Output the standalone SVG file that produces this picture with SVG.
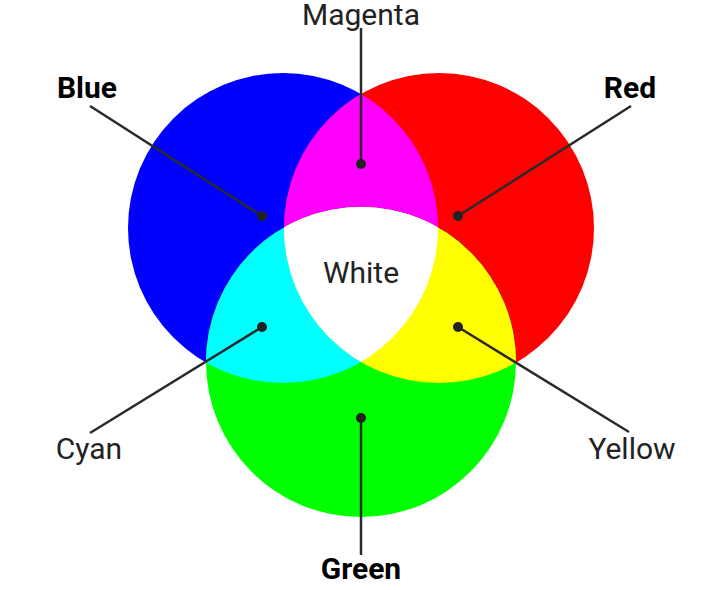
<svg xmlns="http://www.w3.org/2000/svg" width="702" height="590" viewBox="0 0 702 590">
  <style>
    .lbl { font-family: Roboto, "Liberation Sans", sans-serif; font-size: 30px; fill: #222; text-anchor: middle; }
    .bold { font-weight: bold; fill: #000; }
    .conn line { stroke: #2a2a2a; stroke-width: 2.5; }
    .conn circle { fill: #222; }
  </style>
  <defs>
    <clipPath id="cB"><circle cx="283" cy="228" r="155"/></clipPath>
    <clipPath id="cR"><circle cx="439" cy="228" r="155"/></clipPath>
    <clipPath id="cG"><circle cx="361" cy="362" r="155"/></clipPath>
  </defs>
  <rect width="702" height="590" fill="#fff"/>
  <g id="blue"><circle cx="283" cy="228" r="155" fill="#0000ff"/></g>
  <g id="red"><circle cx="439" cy="228" r="155" fill="#ff0000"/></g>
  <g id="green"><circle cx="361" cy="362" r="155" fill="#00ff00"/></g>
  <g id="magenta" clip-path="url(#cB)"><circle cx="439" cy="228" r="155" fill="#ff00ff"/></g>
  <g id="cyan" clip-path="url(#cB)"><circle cx="361" cy="362" r="155" fill="#00ffff"/></g>
  <g id="yellow" clip-path="url(#cR)"><circle cx="361" cy="362" r="155" fill="#ffff00"/></g>
  <g id="white" clip-path="url(#cB)"><g clip-path="url(#cR)"><circle cx="361" cy="362" r="155" fill="#ffffff"/></g></g>
  <g id="connectors" class="conn">
    <line x1="90" y1="106" x2="262" y2="216"/>
    <line x1="631" y1="106" x2="458" y2="216"/>
    <line x1="361" y1="28" x2="361" y2="164"/>
    <line x1="90" y1="433" x2="262" y2="327"/>
    <line x1="629" y1="432" x2="458" y2="327"/>
    <line x1="361" y1="418" x2="361" y2="555"/>
    <circle cx="262" cy="216" r="5"/>
    <circle cx="458" cy="216" r="5"/>
    <circle cx="361" cy="164" r="5"/>
    <circle cx="262" cy="327" r="5"/>
    <circle cx="458" cy="327" r="5"/>
    <circle cx="361" cy="418" r="5"/>
  </g>
  <g id="labels">
    <text class="lbl" x="361" y="25">Magenta</text>
    <text class="lbl bold" x="87" y="98">Blue</text>
    <text class="lbl bold" x="630" y="98">Red</text>
    <text class="lbl" x="361" y="283">White</text>
    <text class="lbl" x="89" y="459">Cyan</text>
    <text class="lbl" x="632" y="459">Yellow</text>
    <text class="lbl bold" x="361" y="579">Green</text>
  </g>
</svg>
